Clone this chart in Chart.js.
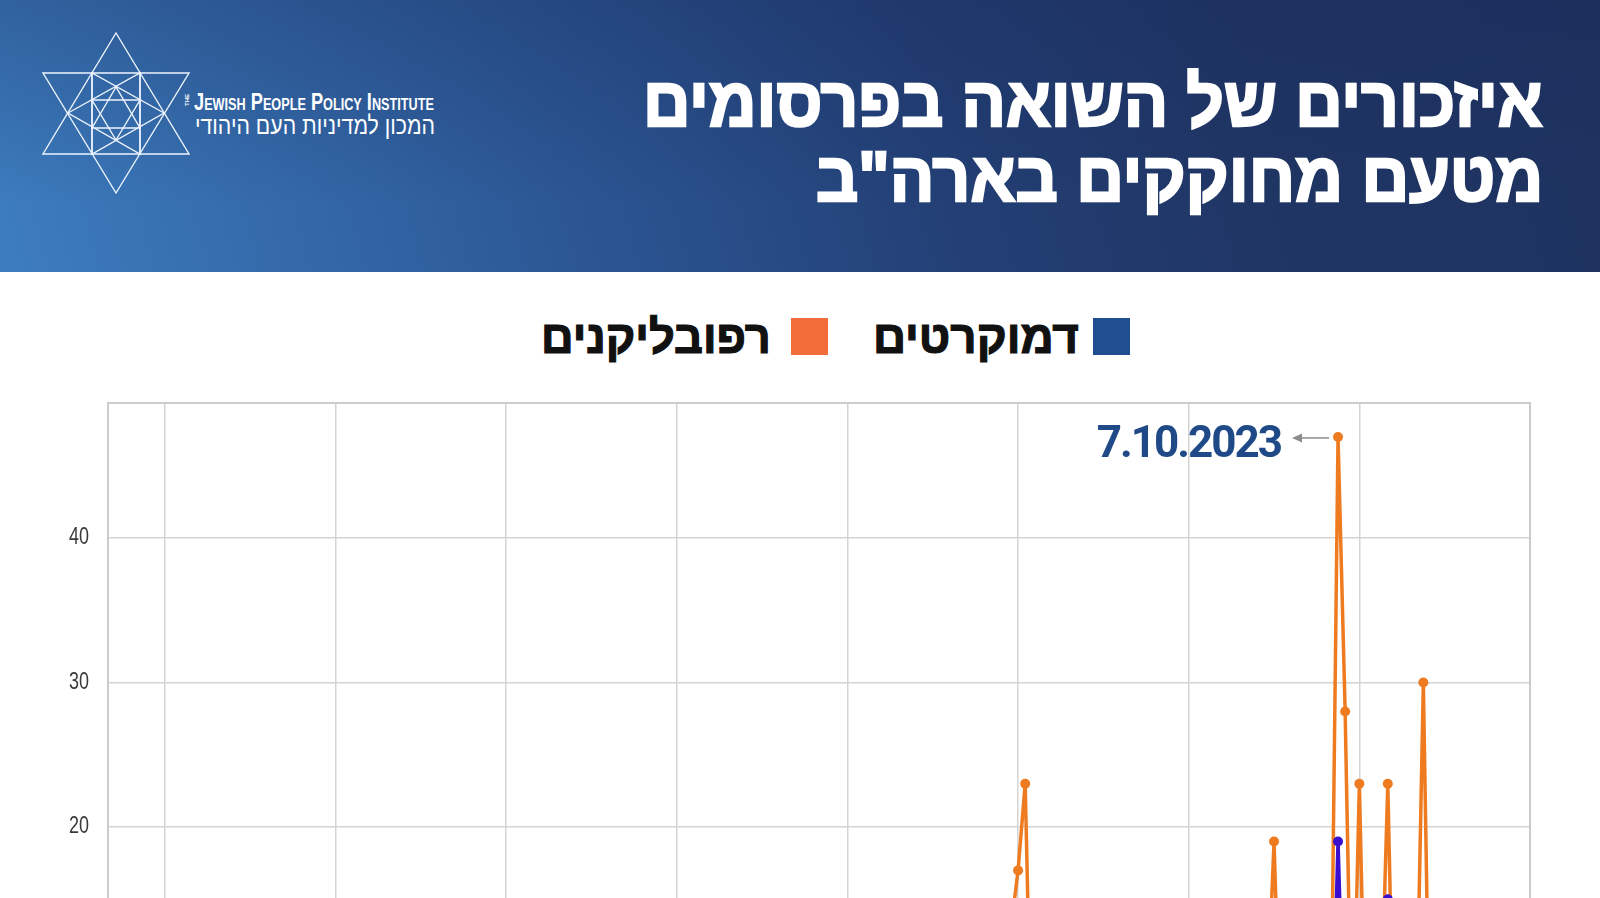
<!DOCTYPE html>
<html lang="he">
<head>
<meta charset="utf-8">
<title>איזכורים של השואה בפרסומים מטעם מחוקקים בארה"ב</title>
<script src="https://cdn.jsdelivr.net/npm/chart.js@4.4.1/dist/chart.umd.min.js"></script>
<style>
  html, body { margin: 0; padding: 0; width: 1600px; height: 898px; overflow: hidden; background: #fff; }
  #banner {
    position: absolute; left: 0; top: 0; width: 1600px; height: 272px;
    background:
      linear-gradient(180deg, rgba(22, 40, 88, 0.28) 0%, rgba(22, 40, 88, 0) 75%),
      linear-gradient(75deg, #3d7dbf 0%, #3469a9 18%, #2b5592 36%, #233f75 58%, #1f3563 78%, #1e3360 100%);
  }
  .fit { position: absolute; white-space: nowrap; line-height: 1; }
  .rt { transform-origin: right top; direction: rtl; }
  .title { right: 57px; color: #fff; font-family: 'Liberation Sans', 'DejaVu Sans', sans-serif; font-weight: 700; font-size: 70px; -webkit-text-stroke: 2.5px #fff; }
  .legtxt { color: #111; font-family: 'Liberation Sans', 'DejaVu Sans', sans-serif; font-weight: 700; font-size: 46px; -webkit-text-stroke: 1.2px #111; }
  .sq { position: absolute; width: 37px; height: 37px; top: 318px; }
  #logo { position: absolute; left: 0; top: 0; }
  .logotxt { color: #fff; font-family: 'Liberation Sans Narrow', 'Liberation Sans', sans-serif; }
  #wrap { position: absolute; left: 0; top: 380px; width: 1600px; height: 800px; }
</style>
</head>
<body>
<div id="banner"></div>
<svg id="logo" width="200" height="200" viewBox="0 0 200 200" fill="none" stroke="#eef4ff" stroke-width="1.4">
  <polygon points="116,33 189,154 43,154"/>
  <polygon points="116,193 189,73 43,73"/>
  <line x1="92" y1="73" x2="92" y2="154"/>
  <line x1="140" y1="73" x2="140" y2="154"/>
  <polygon points="68,113 140,73 140,154"/>
  <polygon points="164,113 92,73 92,154"/>
  <polygon points="116,87 92,128 140,128"/>
  <polygon points="116,140 92,100 140,100"/>
</svg>
<div class="fit logotxt" id="the" style="left:184px; top:106px; font-size:6px; font-weight:700; transform: rotate(-90deg); transform-origin: left top;">THE</div>
<div class="fit logotxt" id="eng" style="left:194px; top:91px; font-size:23px; font-weight:700; font-variant: small-caps; transform-origin: left top;">Jewish People Policy Institute</div>
<div class="fit logotxt rt" id="heb" style="right:1165px; top:113px; font-size:25px;">המכון למדיניות העם היהודי</div>

<div class="fit title rt" id="t1" style="top:67px;">איזכורים של השואה בפרסומים</div>
<div class="fit title rt" id="t2" style="top:142px;">מטעם מחוקקים בארה"ב</div>

<div class="sq" style="left:1093px; background:#1f4e91;"></div>
<div class="fit legtxt rt" id="l1" style="right:521px; top:314px;">דמוקרטים</div>
<div class="sq" style="left:791px; background:#f26d3a;"></div>
<div class="fit legtxt rt" id="l2" style="right:829px; top:314px;">רפובליקנים</div>

<div id="wrap"><canvas id="mycanvas"></canvas></div>

<script>
// weekly counts, one value per week
var firstWeek = Date.UTC(2020, 5, 13);
var weekCount = 201;
var gridEvery = 24;
var gridStart = 8;

var democrats = [
  1, 0, 0, 2, 1, 0, 3, 0, 1, 0,
  2, 0, 1, 0, 0, 3, 1, 0, 2, 1,
  0, 2, 1, 0, 0, 1, 4, 1, 0, 0,
  1, 0, 2, 0, 3, 1, 0, 2, 1, 0,
  0, 2, 1, 4, 0, 0, 1, 3, 2, 0,
  0, 1, 3, 0, 2, 1, 0, 2, 4, 1,
  0, 2, 0, 1, 5, 2, 0, 1, 3, 0,
  0, 3, 1, 2, 0, 5, 2, 1, 0, 2,
  1, 4, 0, 2, 1, 0, 1, 4, 3, 0,
  2, 1, 5, 2, 0, 0, 3, 2, 1, 3,
  0, 2, 6, 1, 1, 3, 0, 2, 4, 1,
  2, 0, 3, 6, 1, 1, 4, 2, 0, 3,
  2, 5, 1, 3, 7, 2, 3, 6, 8, 9,
  1, 3, 4, 2, 3, 5, 2, 1, 4, 6,
  2, 3, 5, 1, 3, 7, 2, 4, 1, 3,
  6, 3, 1, 4, 8, 2, 5, 3, 2, 4,
  7, 3, 2, 4, 10, 2, 4, 6, 3, 5,
  8, 3, 1, 19, 2, 1, 9, 0, 4, 3,
  15, 0, 6, 4, 3, 12, 0, 5, 3, 7,
  2, 5, 6, 1, 4, 8, 3, 6, 4, 5, 3
];

var republicans = [
  2, 0, 1, 3, 0, 2, 4, 1, 0, 2,
  3, 1, 0, 0, 2, 5, 1, 0, 3, 2,
  1, 4, 2, 0, 1, 3, 6, 2, 1, 0,
  2, 1, 3, 0, 4, 2, 1, 5, 2, 0,
  1, 3, 2, 7, 1, 0, 2, 4, 3, 1,
  0, 2, 5, 1, 3, 2, 0, 4, 6, 2,
  1, 3, 0, 2, 8, 3, 1, 2, 4, 1,
  0, 5, 2, 3, 1, 9, 4, 2, 0, 3,
  2, 6, 1, 4, 3, 0, 2, 7, 5, 1,
  3, 2, 8, 4, 1, 0, 6, 3, 2, 5,
  1, 4, 10, 3, 2, 6, 1, 3, 8, 2,
  4, 1, 5, 11, 3, 2, 7, 4, 1, 6,
  3, 9, 2, 5, 12, 4, 6, 13, 17, 23,
  1, 5, 8, 3, 6, 10, 4, 2, 7, 11,
  3, 6, 9, 2, 5, 12, 4, 8, 3, 6,
  10, 5, 2, 7, 13, 4, 9, 6, 3, 8,
  11, 5, 4, 7, 19, 3, 8, 12, 5, 9,
  13, 6, 5, 47, 28, 2, 23, 1, 9, 6,
  23, 0, 11, 8, 5, 30, 0, 10, 6, 13,
  4, 9, 12, 3, 8, 13, 5, 11, 7, 10, 6
];

var peakIndex = 173;
var peakLabel = '7.10.2023';

var weeks = [];
for (var i = 0; i < weekCount; i++) {
  var d = new Date(firstWeek + i * 7 * 86400000);
  weeks.push(d.getUTCDate() + '.' + (d.getUTCMonth() + 1) + '.' + d.getUTCFullYear());
}

function isGrid(i) { return i % gridEvery === gridStart; }

var frame = {
  id: 'frame',
  afterDraw: function(chart) {
    var a = chart.chartArea, ctx = chart.ctx;
    ctx.save();
    ctx.strokeStyle = '#cccccc';
    ctx.lineWidth = 2;
    ctx.strokeRect(a.left, a.top, a.right - a.left, a.bottom - a.top);
    ctx.restore();
  }
};

// y labels in a narrow face, like the slide
var yLabels = {
  id: 'yLabels',
  afterDraw: function(chart) {
    var s = chart.scales.y, ctx = chart.ctx;
    ctx.save();
    ctx.font = '23px "Liberation Sans", Arial, sans-serif';
    ctx.fillStyle = '#3a3a3a';
    ctx.textAlign = 'right';
    ctx.textBaseline = 'middle';
    s.ticks.forEach(function(t) {
      var y = s.getPixelForValue(t.value);
      ctx.save();
      ctx.translate(s.right - 19, y);
      ctx.scale(0.78, 1);
      ctx.fillText(t.label, 0, 0);
      ctx.restore();
    });
    ctx.restore();
  }
};

var annotate = {
  id: 'annotate',
  afterDatasetsDraw: function(chart) {
    var pt = chart.getDatasetMeta(1).data[peakIndex];
    var ctx = chart.ctx;
    var y = pt.y + 1, x1 = pt.x - 9, x0 = pt.x - 46;
    ctx.save();
    ctx.strokeStyle = '#8c8c8c';
    ctx.fillStyle = '#8c8c8c';
    ctx.lineWidth = 1.5;
    ctx.beginPath(); ctx.moveTo(x1, y); ctx.lineTo(x0 + 6, y); ctx.stroke();
    ctx.beginPath(); ctx.moveTo(x0, y); ctx.lineTo(x0 + 10, y - 4.5); ctx.lineTo(x0 + 10, y + 4.5); ctx.closePath(); ctx.fill();
    ctx.font = '700 44px Roboto';
    if ('letterSpacing' in ctx) ctx.letterSpacing = '-2px';
    ctx.fillStyle = '#1f4a87';
    ctx.textAlign = 'right';
    ctx.textBaseline = 'alphabetic';
    ctx.fillText(peakLabel, x0 - 11, y + 19);
    ctx.restore();
  }
};

var ctx = document.getElementById('mycanvas');
var lineChart = new Chart(ctx, {
  type: 'line',
  data: {
    labels: weeks,
    datasets: [
      {
        label: 'דמוקרטים',
        data: democrats,
        borderColor: '#3a0fd0',
        backgroundColor: '#3a0fd0',
        borderWidth: 3.5,
        pointRadius: 5,
        pointBorderWidth: 0,
        tension: 0
      },
      {
        label: 'רפובליקנים',
        data: republicans,
        borderColor: '#ef7b20',
        backgroundColor: '#ef7b20',
        borderWidth: 3.5,
        pointRadius: 5,
        pointBorderWidth: 0,
        tension: 0
      }
    ]
  },
  options: {
    responsive: true,
    maintainAspectRatio: false,
    animation: false,
    layout: { padding: { top: 23, right: 70, left: 0, bottom: 0 } },
    plugins: { legend: { display: false }, tooltip: { enabled: false } },
    scales: {
      x: {
        ticks: {
          autoSkip: false,
          maxRotation: 0,
          color: '#444',
          font: { family: 'Liberation Sans, sans-serif', size: 16 },
          callback: function(v, i) { return isGrid(i) ? this.getLabelForValue(v) : ''; }
        },
        grid: {
          drawTicks: false,
          lineWidth: 1.5,
          color: function(c) { return isGrid(c.index) ? '#d4d4d4' : 'rgba(0,0,0,0)'; }
        },
        border: { display: false },
        afterFit: function(s) { s.height = 64; s.paddingLeft = 0; s.paddingRight = 0; }
      },
      y: {
        min: 0,
        max: 49.35,
        ticks: {
          stepSize: 10,
          includeBounds: false,
          display: false
        },
        grid: { drawTicks: false, lineWidth: 1.5, color: '#d4d4d4' },
        border: { display: false },
        afterFit: function(s) { s.width = 108; s.paddingTop = 0; s.paddingBottom = 0; }
      }
    }
  },
  plugins: [frame, yLabels, annotate]
});

// squeeze header texts to the widths they take in the slide
function fit(id, w) {
  var el = document.getElementById(id);
  var sx = w / el.scrollWidth;
  el.style.transform = (el.style.transform || '') + ' scaleX(' + sx + ')';
}
fit('t1', 900);
fit('t2', 727);
fit('l1', 206);
fit('l2', 230);
fit('eng', 240);
fit('heb', 240);
</script>
</body>
</html>
